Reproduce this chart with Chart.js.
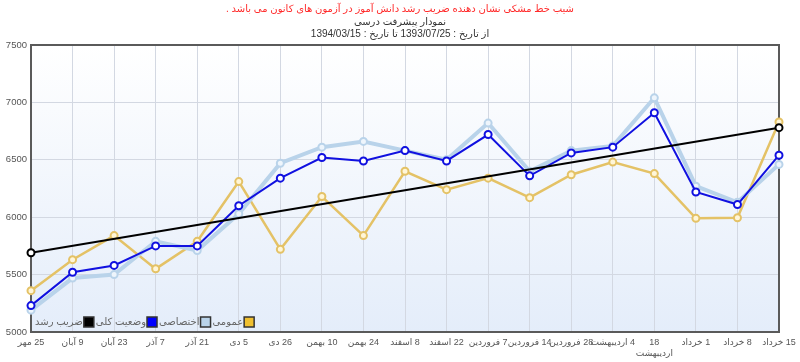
<!DOCTYPE html>
<html lang="fa">
<head>
<meta charset="utf-8">
<title>نمودار پیشرفت درسی</title>
<script src="https://cdn.jsdelivr.net/npm/chart.js@4.4.0/dist/chart.umd.min.js"></script>
<style>
  html, body { margin: 0; padding: 0; background: #fff; }
  #wrap { width: 800px; height: 362px; position: relative; }
</style>
</head>
<body>
<div id="wrap"><canvas id="progressChart" dir="rtl"></canvas></div>
<script>
// تاریخ آزمون ها
const examDates = [
    '25 مهر', '9 آبان', '23 آبان', '7 آذر', '21 آذر', '5 دی', '26 دی',
    '10 بهمن', '24 بهمن', '8 اسفند', '22 اسفند', '7 فروردین', '14 فروردین',
    '28 فروردین', '4 اردیبهشت', ['18', 'اردیبهشت'], '1 خرداد', '8 خرداد', '15 خرداد'
];

// تراز ها
const overallScores = [5230, 5520, 5580, 5750, 5750, 6100, 6340, 6520, 6490, 6580,
                       6490, 6720, 6360, 6560, 6610, 6910, 6220, 6110, 6540];
const specialScores = [5190, 5470, 5500, 5790, 5710, 6030, 6470, 6610, 6660, 6580,
                       6500, 6820, 6400, 6580, 6620, 7040, 6270, 6130, 6460];
const generalScores = [5360, 5630, 5840, 5550, 5790, 6310, 5720, 6180, 5840, 6400,
                       6240, 6340, 6170, 6370, 6480, 6380, 5990, 5995, 6830];
// خط ضریب رشد (فقط دو سر خط)
const growthLine = [5690, null, null, null, null, null, null, null, null, null,
                    null, null, null, null, null, null, null, null, 6780];

const yTicks = [5000, 5500, 6000, 6500, 7000, 7500];

const fontFamily = 'Tahoma, "Liberation Sans", "DejaVu Sans", sans-serif';

// پس زمینه گرادیان و قاب نمودار
const plotFrame = {
    id: 'plotFrame',
    beforeDraw(chart) {
        const { ctx, chartArea: a } = chart;
        const g = ctx.createLinearGradient(0, a.top, 0, a.bottom);
        g.addColorStop(0, '#ffffff');
        g.addColorStop(1, '#e4edfa');
        ctx.save();
        ctx.fillStyle = g;
        ctx.fillRect(a.left, a.top, a.right - a.left, a.bottom - a.top);
        ctx.restore();
    },
    beforeDatasetsDraw(chart) {
        const { ctx, chartArea: a } = chart;
        ctx.save();
        ctx.strokeStyle = '#5a5a5a';
        ctx.lineWidth = 2;
        ctx.strokeRect(a.left, a.top, a.right - a.left, a.bottom - a.top);
        ctx.restore();
    }
};

// راهنما داخل نمودار (پایین سمت چپ)
const insideLegend = {
    id: 'insideLegend',
    afterDatasetsDraw(chart) {
        const { ctx, chartArea: a } = chart;
        const y = a.bottom - 10;
        let x = a.left + 4;
        ctx.save();
        ctx.font = '10px ' + fontFamily;
        ctx.textBaseline = 'middle';
        ctx.textAlign = 'left';
        chart.data.datasets.forEach(ds => {
            ctx.fillStyle = '#666';
            ctx.fillText(ds.label, x, y);
            x += ctx.measureText(ds.label).width + 1;
            ctx.fillStyle = ds.legendColor;
            ctx.fillRect(x, y - 5, 10, 10);
            ctx.strokeStyle = '#333';
            ctx.lineWidth = 1.5;
            ctx.strokeRect(x, y - 5, 10, 10);
            x += 12;
        });
        ctx.restore();
    }
};

const ctx = document.getElementById('progressChart').getContext('2d');
new Chart(ctx, {
    type: 'line',
    data: {
        labels: examDates,
        datasets: [
            {
                label: 'ضریب رشد', data: growthLine, spanGaps: true,
                borderColor: '#000', borderWidth: 2, legendColor: '#000',
                pointBackgroundColor: '#fff', pointBorderColor: '#000',
                pointBorderWidth: 2, pointRadius: 3.5
            },
            {
                label: 'وضعیت کلی', data: overallScores,
                borderColor: '#1010e0', borderWidth: 2, legendColor: '#0000ff',
                pointBackgroundColor: '#fff', pointBorderColor: '#1010e0',
                pointBorderWidth: 2, pointRadius: 3.5
            },
            {
                label: 'اختصاصی', data: specialScores,
                borderColor: '#b9d3ea', borderWidth: 4, legendColor: '#b9d3ea',
                pointBackgroundColor: '#eef5fc', pointBorderColor: '#b9d3ea',
                pointBorderWidth: 2, pointRadius: 3.5
            },
            {
                label: 'عمومی', data: generalScores,
                borderColor: '#e4c266', borderWidth: 2.5, legendColor: '#f0c030',
                pointBackgroundColor: '#fff6d8', pointBorderColor: '#e4c266',
                pointBorderWidth: 2, pointRadius: 3.5
            }
        ]
    },
    options: {
        responsive: true,
        maintainAspectRatio: false,
        animation: false,
        layout: { padding: 0 },
        plugins: {
            legend: { display: false },
            tooltip: { enabled: false },
            title: {
                display: true,
                text: 'شیب خط مشکی نشان دهنده ضریب رشد دانش آموز در آزمون های کانون می باشد .',
                color: '#ff2a2a',
                font: { family: fontFamily, size: 10, weight: 'normal', lineHeight: 1.2 },
                padding: { top: 3, bottom: 1 }
            },
            subtitle: {
                display: true,
                text: ['نمودار پیشرفت درسی', 'از تاریخ : 1393/07/25 تا تاریخ : 1394/03/15'],
                color: '#333',
                font: { family: fontFamily, size: 10, lineHeight: 1.2 },
                padding: { top: 0, bottom: 5 }
            }
        },
        scales: {
            x: {
                offset: false,
                grid: { color: '#d3d8e2', drawTicks: false },
                border: { display: false },
                ticks: {
                    color: '#555', autoSkip: false, maxRotation: 0, padding: 5,
                    font: { family: fontFamily, size: 9, lineHeight: 1.2 }
                },
                afterFit(scale) {
                    scale.height = 30;
                    scale.paddingRight = 21;
                }
            },
            y: {
                min: yTicks[0],
                max: yTicks[yTicks.length - 1],
                grid: { color: '#d3d8e2', drawTicks: false },
                border: { display: false },
                ticks: {
                    stepSize: yTicks[1] - yTicks[0], color: '#555', padding: 4,
                    font: { family: fontFamily, size: 9.5 },
                    callback: v => String(v)
                },
                afterFit(scale) {
                    scale.width = 31;
                }
            }
        }
    },
    plugins: [plotFrame, insideLegend]
});
</script>
</body>
</html>
